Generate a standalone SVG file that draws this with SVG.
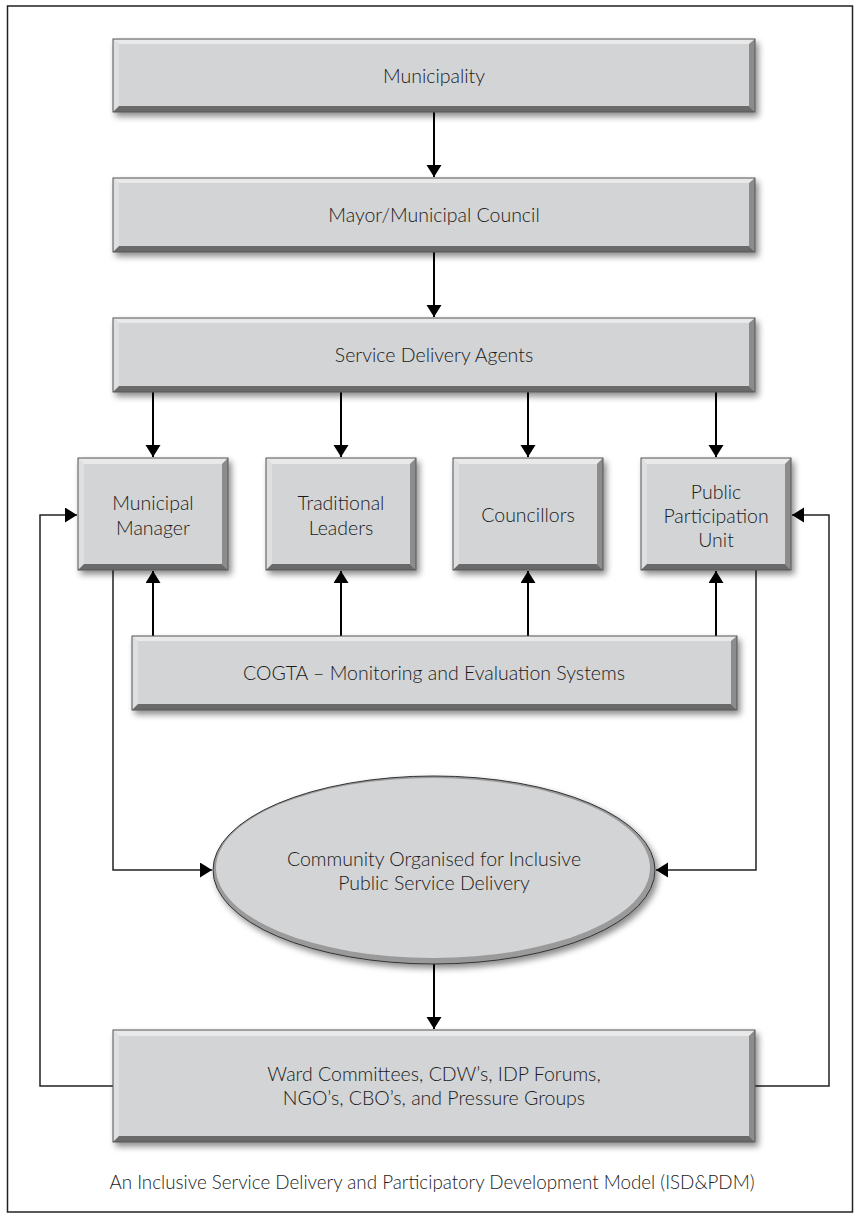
<svg xmlns="http://www.w3.org/2000/svg" width="860" height="1216" viewBox="0 0 860 1216">
<style>
  .face{fill:#d3d4d6}
  .bt{fill:#e9e9ea}
  .bl{fill:#dedfe0}
  .br{fill:#8c8c8c}
  .bb{fill:#6b6b6b}
  .edge{fill:none;stroke:#555;stroke-width:1}
  .lbl{font-family:Lato,"Liberation Sans",sans-serif;font-weight:300;font-size:19.5px;fill:#1a1a1a;text-anchor:middle}
  .cap{font-family:Lato,"Liberation Sans",sans-serif;font-weight:300;font-size:18.8px;fill:#1a1a1a;text-anchor:middle}
  .arr{fill:none;stroke:#000;stroke-width:2}
  .fb{fill:none;stroke:#222;stroke-width:1.5}
</style>
<defs>
  <filter id="sh" x="-10%" y="-20%" width="125%" height="150%">
    <feDropShadow dx="3" dy="4" stdDeviation="3" flood-color="#000" flood-opacity="0.45"/>
  </filter>
  <marker id="ah" markerUnits="userSpaceOnUse" markerWidth="16" markerHeight="16" refX="12" refY="7.5" orient="auto">
    <path d="M0,0 L12,7.5 L0,15 Z" fill="#000"/>
  </marker>
</defs>
<rect x="7.5" y="6" width="845" height="1206" fill="#fff" stroke="#222" stroke-width="1.5"/>

<g id="connectors">
  <line class="arr" x1="434" y1="112" x2="434" y2="177" marker-end="url(#ah)"/>
  <line class="arr" x1="434" y1="252" x2="434" y2="317" marker-end="url(#ah)"/>
  <line class="arr" x1="153" y1="392" x2="153" y2="457" marker-end="url(#ah)"/>
  <line class="arr" x1="341" y1="392" x2="341" y2="457" marker-end="url(#ah)"/>
  <line class="arr" x1="528" y1="392" x2="528" y2="457" marker-end="url(#ah)"/>
  <line class="arr" x1="716" y1="392" x2="716" y2="457" marker-end="url(#ah)"/>
  <line class="arr" x1="153" y1="636" x2="153" y2="571" marker-end="url(#ah)"/>
  <line class="arr" x1="341" y1="636" x2="341" y2="571" marker-end="url(#ah)"/>
  <line class="arr" x1="528" y1="636" x2="528" y2="571" marker-end="url(#ah)"/>
  <line class="arr" x1="716" y1="636" x2="716" y2="571" marker-end="url(#ah)"/>
  <line class="arr" x1="434" y1="964" x2="434" y2="1029" marker-end="url(#ah)"/>
  <polyline class="fb" points="113,570 113,870 212,870" marker-end="url(#ah)"/>
  <polyline class="fb" points="756,570 756,870 656,870" marker-end="url(#ah)"/>
  <polyline class="fb" points="113,1086 40,1086 40,515 77,515" marker-end="url(#ah)"/>
  <polyline class="fb" points="755,1086 829,1086 829,515 792,515" marker-end="url(#ah)"/>
</g>

<g id="municipality" filter="url(#sh)">
  <rect class="face" x="113" y="39" width="642" height="73"/>
  <polygon class="bt" points="113,39 755,39 749,44 119,44"/>
  <polygon class="bl" points="113,39 119,44 119,106 113,112"/>
  <polygon class="br" points="755,39 755,112 749,106 749,44"/>
  <polygon class="bb" points="113,112 755,112 749,106 119,106"/>
  <rect class="edge" x="113" y="39" width="642" height="73"/>
</g>
<text class="lbl" x="434" y="83">Municipality</text>

<g id="mayor" filter="url(#sh)">
  <rect class="face" x="113" y="178" width="642" height="74"/>
  <polygon class="bt" points="113,178 755,178 749,183 119,183"/>
  <polygon class="bl" points="113,178 119,183 119,246 113,252"/>
  <polygon class="br" points="755,178 755,252 749,246 749,183"/>
  <polygon class="bb" points="113,252 755,252 749,246 119,246"/>
  <rect class="edge" x="113" y="178" width="642" height="74"/>
</g>
<text class="lbl" x="434" y="222">Mayor/Municipal Council</text>

<g id="sda" filter="url(#sh)">
  <rect class="face" x="113" y="318" width="642" height="74"/>
  <polygon class="bt" points="113,318 755,318 749,323 119,323"/>
  <polygon class="bl" points="113,318 119,323 119,386 113,392"/>
  <polygon class="br" points="755,318 755,392 749,386 749,323"/>
  <polygon class="bb" points="113,392 755,392 749,386 119,386"/>
  <rect class="edge" x="113" y="318" width="642" height="74"/>
</g>
<text class="lbl" x="434" y="362">Service Delivery Agents</text>

<g id="mm" filter="url(#sh)">
  <rect class="face" x="78" y="458" width="150" height="112"/>
  <polygon class="bt" points="78,458 228,458 222,464 84,464"/>
  <polygon class="bl" points="78,458 84,464 84,564 78,570"/>
  <polygon class="br" points="228,458 228,570 222,564 222,464"/>
  <polygon class="bb" points="78,570 228,570 222,564 84,564"/>
  <rect class="edge" x="78" y="458" width="150" height="112"/>
</g>
<text class="lbl" x="153" y="510">Municipal</text>
<text class="lbl" x="153" y="535">Manager</text>

<g id="tl" filter="url(#sh)">
  <rect class="face" x="266" y="458" width="150" height="112"/>
  <polygon class="bt" points="266,458 416,458 410,464 272,464"/>
  <polygon class="bl" points="266,458 272,464 272,564 266,570"/>
  <polygon class="br" points="416,458 416,570 410,564 410,464"/>
  <polygon class="bb" points="266,570 416,570 410,564 272,564"/>
  <rect class="edge" x="266" y="458" width="150" height="112"/>
</g>
<text class="lbl" x="341" y="510">Traditional</text>
<text class="lbl" x="341" y="535">Leaders</text>

<g id="councillors" filter="url(#sh)">
  <rect class="face" x="453" y="458" width="150" height="112"/>
  <polygon class="bt" points="453,458 603,458 597,464 459,464"/>
  <polygon class="bl" points="453,458 459,464 459,564 453,570"/>
  <polygon class="br" points="603,458 603,570 597,564 597,464"/>
  <polygon class="bb" points="453,570 603,570 597,564 459,564"/>
  <rect class="edge" x="453" y="458" width="150" height="112"/>
</g>
<text class="lbl" x="528" y="522">Councillors</text>

<g id="ppu" filter="url(#sh)">
  <rect class="face" x="641" y="458" width="150" height="112"/>
  <polygon class="bt" points="641,458 791,458 785,464 647,464"/>
  <polygon class="bl" points="641,458 647,464 647,564 641,570"/>
  <polygon class="br" points="791,458 791,570 785,564 785,464"/>
  <polygon class="bb" points="641,570 791,570 785,564 647,564"/>
  <rect class="edge" x="641" y="458" width="150" height="112"/>
</g>
<text class="lbl" x="716" y="499">Public</text>
<text class="lbl" x="716" y="523">Participation</text>
<text class="lbl" x="716" y="547">Unit</text>

<g id="cogta" filter="url(#sh)">
  <rect class="face" x="132" y="636" width="605" height="74"/>
  <polygon class="bt" points="132,636 737,636 731,641 138,641"/>
  <polygon class="bl" points="132,636 138,641 138,704 132,710"/>
  <polygon class="br" points="737,636 737,710 731,704 731,641"/>
  <polygon class="bb" points="132,710 737,710 731,704 138,704"/>
  <rect class="edge" x="132" y="636" width="605" height="74"/>
</g>
<text class="lbl" x="434" y="680">COGTA – Monitoring and Evaluation Systems</text>

<g id="community" filter="url(#sh)">
  <ellipse cx="434" cy="870" rx="221" ry="94" fill="#9a9a9a" stroke="#333" stroke-width="1"/>
  <ellipse cx="433" cy="868" rx="217" ry="90" fill="#d3d4d6"/>
</g>
<text class="lbl" x="434" y="866">Community Organised for Inclusive</text>
<text class="lbl" x="434" y="890">Public Service Delivery</text>

<g id="ward" filter="url(#sh)">
  <rect class="face" x="113" y="1030" width="642" height="112"/>
  <polygon class="bt" points="113,1030 755,1030 749,1036 119,1036"/>
  <polygon class="bl" points="113,1030 119,1036 119,1136 113,1142"/>
  <polygon class="br" points="755,1030 755,1142 749,1136 749,1036"/>
  <polygon class="bb" points="113,1142 755,1142 749,1136 119,1136"/>
  <rect class="edge" x="113" y="1030" width="642" height="112"/>
</g>
<text class="lbl" x="434" y="1081">Ward Committees, CDW’s, IDP Forums,</text>
<text class="lbl" x="434" y="1105">NGO’s, CBO’s, and Pressure Groups</text>

<text class="cap" x="432" y="1189">An Inclusive Service Delivery and Participatory Development Model (ISD&amp;PDM)</text>
</svg>
